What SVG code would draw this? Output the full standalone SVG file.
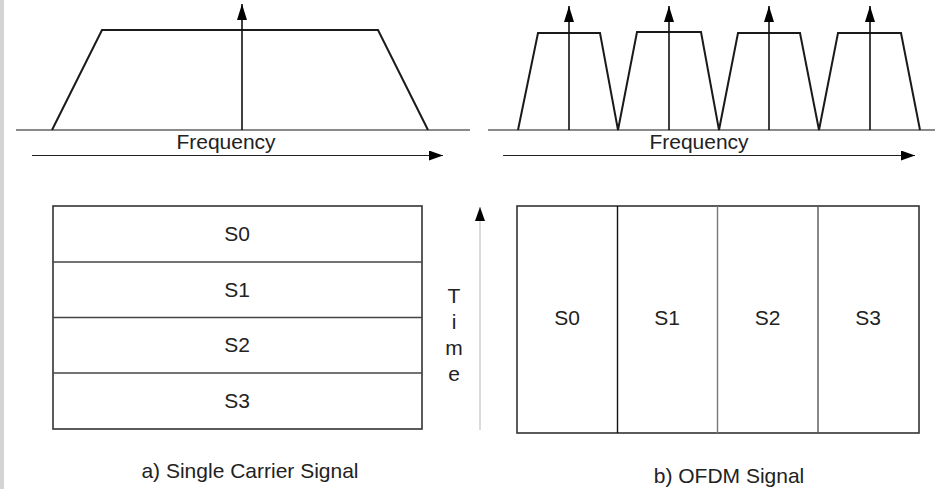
<svg xmlns="http://www.w3.org/2000/svg" width="935" height="489" viewBox="0 0 935 489">
<defs>
<style>
text{font-family:"Liberation Sans",Arial,sans-serif;font-size:21px;fill:#222;text-anchor:middle}
.base{stroke:#8a8a8a;stroke-width:2;fill:none}
.shape{stroke:#1a1a1a;stroke-width:2;fill:none;stroke-linejoin:miter}
.carrier{stroke:#111;stroke-width:1.6;fill:none}
.axis{stroke:#222;stroke-width:1.2;fill:none}
.box{stroke:#333;stroke-width:1.6;fill:#fff}
.div{stroke:#444;stroke-width:1.4}
</style>
<marker id="ah" viewBox="0 0 14 10" refX="14" refY="5" markerWidth="14" markerHeight="10" markerUnits="userSpaceOnUse" orient="auto">
<path d="M0,0 L14,5 L0,10 Z" fill="#000"/>
</marker>
<marker id="ahs" viewBox="0 0 16 10" refX="16" refY="5" markerWidth="16" markerHeight="10" markerUnits="userSpaceOnUse" orient="auto">
<path d="M0,0 L16,5 L0,10 Z" fill="#000"/>
</marker>
</defs>
<rect x="0" y="0" width="935" height="489" fill="#fff"/>
<rect x="0" y="0" width="4" height="489" fill="#d4d4d4"/>

<g id="spectrum-single">
<line class="base" x1="16" y1="130" x2="470" y2="130"/>
<polyline class="shape" points="52,130 102,30 378,30 428,130"/>
</g>
<g id="spectrum-ofdm">
<line class="base" x1="488" y1="130" x2="935" y2="130"/>
<polyline class="shape" points="518,130 538,33 600,33 618,130 637,32 701,32 719,130 738,33 800,33 819,130 838,33 901,33 920,130"/>
</g>

<g id="connectors">
<line class="carrier" x1="242" y1="130" x2="242" y2="4" marker-end="url(#ahs)"/>
<line class="carrier" x1="569" y1="130" x2="569" y2="6" marker-end="url(#ahs)"/>
<line class="carrier" x1="669" y1="130" x2="669" y2="6" marker-end="url(#ahs)"/>
<line class="carrier" x1="769" y1="130" x2="769" y2="6" marker-end="url(#ahs)"/>
<line class="carrier" x1="870" y1="130" x2="870" y2="6" marker-end="url(#ahs)"/>
<line class="axis" x1="32" y1="155.5" x2="443" y2="155.5" marker-end="url(#ah)"/>
<line class="axis" x1="503" y1="155.5" x2="915" y2="155.5" marker-end="url(#ah)"/>
<line stroke="#cfcfcf" stroke-width="1.5" x1="480" y1="430" x2="480" y2="207" marker-end="url(#ah)"/>
</g>

<g id="freq-label-a"><text x="226" y="149">Frequency</text></g>
<g id="freq-label-b"><text x="699" y="149">Frequency</text></g>

<g id="single-carrier">
<rect class="box" x="53" y="206" width="369" height="223"/>
<line class="div" x1="53" y1="262" x2="422" y2="262"/>
<line class="div" x1="53" y1="317.5" x2="422" y2="317.5"/>
<line class="div" x1="53" y1="373" x2="422" y2="373"/>
<text x="237" y="241">S0</text>
<text x="237" y="297">S1</text>
<text x="237" y="352">S2</text>
<text x="237" y="408">S3</text>
</g>

<g id="time-label">
<text x="454" y="303">T</text>
<text x="454" y="329">i</text>
<text x="454" y="355">m</text>
<text x="454" y="381">e</text>
</g>

<g id="ofdm">
<rect class="box" x="517" y="206" width="402" height="227"/>
<line class="div" x1="617.5" y1="206" x2="617.5" y2="433" style="stroke:#111"/>
<line class="div" x1="717.5" y1="206" x2="717.5" y2="433" style="stroke:#777"/>
<line class="div" x1="818" y1="206" x2="818" y2="433" style="stroke:#555"/>
<text x="567" y="325">S0</text>
<text x="667" y="325">S1</text>
<text x="767.5" y="325">S2</text>
<text x="868" y="325">S3</text>
</g>

<g id="caption-a"><text x="250" y="478">a) Single Carrier Signal</text></g>
<g id="caption-b"><text x="729" y="483">b) OFDM Signal</text></g>
</svg>
